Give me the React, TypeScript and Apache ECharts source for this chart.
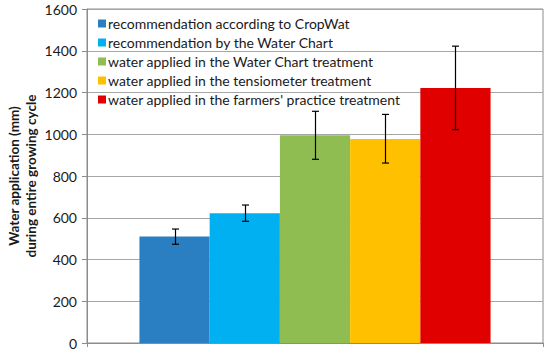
import React, { useEffect, useRef } from "react";
import * as echarts from "echarts";

const seriesNames = [
  "recommendation according to CropWat",
  "recommendation by the Water Chart",
  "water applied in the Water Chart treatment",
  "water applied in the tensiometer treatment",
  "water applied in the farmers' practice treatment",
];
const values = [510, 622, 995, 977, 1222];
const errLow = [473, 583, 880, 862, 1022];
const errHigh = [546, 661, 1110, 1095, 1422];
const colors = ["#2A7EC2", "#00B0F0", "#8FBD52", "#FFC000", "#E10000"];
const yTicks = { min: 0, max: 1600, interval: 200 };

const CAT_GAP = 0.23;
const FONT = "Lato, 'Open Sans', sans-serif";

export default function App() {
  const ref = useRef<HTMLDivElement>(null);
  useEffect(() => {
    const chart = echarts.init(ref.current!, null, { renderer: "svg" });
    const n = values.length;
    const barSeries = seriesNames.map((name, i) => ({
      name,
      type: "bar",
      data: [values[i]],
      itemStyle: { color: colors[i] },
      barGap: "0%",
      barCategoryGap: CAT_GAP * 100 + "%",
      z: 2,
    }));
    const errData = values.map((_, i) => [0, errLow[i], errHigh[i], i]);
    const option = {
      animation: false,
      textStyle: { fontFamily: FONT },
      grid: {
        left: 87, right: 7, top: 9, bottom: 9, containLabel: false, outerBoundsMode: "none",
        show: true, borderColor: "#8c8c8c", borderWidth: 1,
      },
      legend: {
        orient: "vertical",
        left: 93,
        top: 11,
        itemWidth: 8,
        itemHeight: 8,
        itemGap: 4,
        icon: "rect",
        data: seriesNames,
        textStyle: { fontSize: 14, color: "#1a1a1a", fontFamily: FONT, padding: [0, 0, 0, -3], lineHeight: 15 },
      },
      xAxis: {
        type: "category",
        data: [""],
        axisLine: { lineStyle: { color: "#8c8c8c" } },
        axisTick: { show: true, length: 4, lineStyle: { color: "#8c8c8c" } },
        axisLabel: { show: false },
      },
      yAxis: {
        type: "value",
        min: yTicks.min,
        max: yTicks.max,
        interval: yTicks.interval,
        name: "Water application (mm)\nduring entire growing cycle",
        nameLocation: "middle",
        nameRotate: 90,
        nameGap: 48,
        nameMoveOverlap: false,
        nameTextStyle: { fontSize: 13.5, fontWeight: "bold", color: "#1a1a1a", lineHeight: 17, fontFamily: FONT },
        axisLine: { show: true, lineStyle: { color: "#8c8c8c" } },
        axisTick: { show: true, length: 5, inside: false, lineStyle: { color: "#8c8c8c" } },
        axisLabel: { fontSize: 14, color: "#1a1a1a", margin: 10, fontFamily: FONT, formatter: (v: number) => String(v) },
        splitLine: { lineStyle: { color: "#a6a6a6" } },
      },
      series: [
        ...barSeries,
        {
          type: "custom",
          name: "err",
          z: 5,
          data: errData,
          encode: { x: 0, y: [1, 2] },
          renderItem: (params: any, api: any) => {
            const idx = api.value(3);
            const catW = api.size([1, 0])[0];
            const bw = (catW * (1 - CAT_GAP)) / n;
            const center = api.coord([0, 0])[0];
            const x = Math.round(center + (idx - (n - 1) / 2) * bw) + 0.5;
            const yl = api.coord([0, api.value(1)])[1];
            const yh = api.coord([0, api.value(2)])[1];
            const cap = 3.5;
            const style = { stroke: "#000", lineWidth: 1.2, fill: null };
            return {
              type: "group",
              children: [
                { type: "line", shape: { x1: x, y1: yl, x2: x, y2: yh }, style },
                { type: "line", shape: { x1: x - cap, y1: yl, x2: x + cap, y2: yl }, style },
                { type: "line", shape: { x1: x - cap, y1: yh, x2: x + cap, y2: yh }, style },
              ],
            };
          },
        },
      ],
    };
    chart.setOption(option as any);
    return () => chart.dispose();
  }, []);
  return <div ref={ref} style={{ width: 550, height: 352, position: "absolute", left: 0, top: 0 }} />;
}
